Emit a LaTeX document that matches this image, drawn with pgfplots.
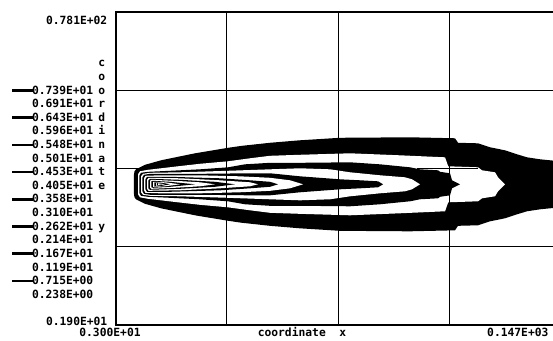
\documentclass[border=0pt]{standalone}
\usepackage{pgfplots}
\pgfplotsset{compat=1.18}
\usepackage{fontspec}
\setmainfont{DejaVu Sans Mono}
\begin{document}
\begin{tikzpicture}[x=1pt,y=1pt,every node/.style={font=\fontsize{11.3}{13}\selectfont\bfseries, inner sep=0pt}]
\begin{axis}[
  at={(115.5pt,15.5pt)}, anchor=south west,
  scale only axis, width=445.2pt, height=312pt,
  xmin=3, xmax=147, ymin=1.9, ymax=78.1,
  xtick={39,75,111}, ytick={20.95,59.05},
  xticklabels={}, yticklabels={},
  major tick length=0pt,
  grid=major, grid style={black, line width=0.8pt},
  axis line style={black, line width=2pt},
  axis on top,
]
\addplot[black, line width=0.8pt] coordinates {(3,40) (147,40)};
% R1 (0.238 - 0.715) black
\addplot[fill=black, draw=none] coordinates {
(8.98,38.58) (9.15,39.32) (9.63,39.80) (10.92,40.29) (12.54,40.90) (17.72,42.00) (23.22,42.86) (28.71,43.71) (39.39,45.05) (43.92,45.54) (52.98,46.28) (62.68,46.89) (75.63,47.50) (98.27,47.62) (112.81,47.38) (113.79,46.28) (120.26,46.15) (124.14,45.18) (128.99,44.44) (132.87,43.47) (136.10,42.73) (140.31,42.25) (146.78,41.76) (150,41.02)
(150,31.26) (146.78,30.52) (140.31,30.03) (136.10,29.55) (132.87,28.81) (128.99,27.84) (124.14,27.10) (120.26,26.13) (113.79,26.00) (112.81,24.90) (98.27,24.66) (75.63,24.78) (62.68,25.39) (52.98,26.00) (43.92,26.74) (39.39,27.23) (28.71,28.57) (23.22,29.42) (17.72,30.28) (12.54,31.38) (10.92,31.99) (9.63,32.48) (9.15,32.96) (8.98,33.70)};
% R2 white
\addplot[fill=white, draw=none] coordinates {
(10.28,38.58) (10.92,39.32) (13.51,39.68) (17.72,40.05) (23.22,40.54) (30.33,41.15) (39.39,41.76) (46.51,42.49) (52.98,43.10) (62.68,43.35) (78.86,43.71) (95.03,43.22) (109.59,42.73) (110.61,40.54) (120.26,40.29) (121.55,39.56) (125.76,39.07) (126.73,37.85) (128.99,36.14)
(126.73,34.43) (125.76,33.21) (121.55,32.72) (120.26,31.99) (110.61,31.74) (109.59,29.55) (95.03,29.06) (78.86,28.57) (62.68,28.93) (52.98,29.18) (46.51,29.79) (39.39,30.52) (30.33,31.13) (23.22,31.74) (17.72,32.23) (13.51,32.60) (10.92,32.96) (10.28,33.70)};
% R3 black
\addplot[fill=black, draw=none] coordinates {
(10.76,38.34) (11.25,38.95) (13.51,39.19) (20.63,39.44) (30.33,39.80) (39.39,40.29) (44.89,41.02) (52.98,41.39) (62.68,41.39) (78.86,41.51) (88.55,41.02) (98.27,40.29) (101.50,39.80) (107.33,39.56) (107.97,39.19) (111.20,38.83) (111.85,37.12) (114.44,36.14)
(111.85,35.16) (111.20,33.45) (107.97,33.09) (107.33,32.72) (101.50,32.48) (98.27,31.99) (88.55,31.26) (78.86,30.77) (62.68,30.89) (52.98,30.89) (44.89,31.26) (39.39,31.99) (30.33,32.48) (20.63,32.84) (13.51,33.09) (11.25,33.33) (10.76,33.94)};
% R4 white
\addplot[fill=white, draw=none] coordinates {
(11.25,38.09) (11.89,38.70) (14.16,38.95) (23.86,39.07) (39.39,39.44) (52.98,39.80) (62.68,40.05) (72.39,39.80) (78.86,39.07) (88.55,38.34) (96.65,37.85) (98.90,37.36) (101.50,36.14)
(98.90,34.92) (96.65,34.43) (88.55,33.94) (78.86,33.21) (72.39,32.48) (62.68,32.23) (52.98,32.48) (39.39,32.84) (23.86,33.21) (14.16,33.33) (11.89,33.58) (11.25,34.19)};
% R5 black
\addplot[fill=black, draw=none] coordinates {
(11.73,37.85) (12.22,38.46) (14.16,38.70) (30.33,38.70) (46.51,38.83) (52.98,38.83) (62.68,38.09) (75.63,37.36) (82.10,37.12) (87.91,36.87) (89.53,36.14)
(87.91,35.41) (82.10,35.16) (75.63,34.92) (62.68,34.19) (52.98,33.45) (46.51,33.45) (30.33,33.58) (14.16,33.58) (12.22,33.82) (11.73,34.43)};
% R6 white
\addplot[fill=white, draw=none] coordinates {
(12.22,37.61) (12.70,38.22) (17.39,38.34) (30.33,38.34) (43.27,38.09) (52.98,37.73) (59.45,37.12) (63.66,36.14)
(59.45,35.16) (52.98,34.55) (43.27,34.19) (30.33,33.94) (17.39,33.94) (12.70,34.06) (12.22,34.67)};
% R7 black
\addplot[fill=black, draw=none] coordinates {
(12.70,37.36) (13.19,37.97) (20.63,37.97) (36.80,37.61) (46.51,37.12) (52.98,36.75) (55.56,36.14)
(52.98,35.53) (46.51,35.16) (36.80,34.67) (20.63,34.31) (13.19,34.31) (12.70,34.92)};
% R8 white
\addplot[fill=white, draw=none] coordinates {
(13.19,37.24) (13.67,37.73) (23.86,37.61) (36.80,37.12) (46.51,36.63) (49.09,36.14)
(46.51,35.65) (36.80,35.16) (23.86,34.67) (13.67,34.55) (13.19,35.04)};
% R9 black
\addplot[fill=black, draw=none] coordinates {
(13.67,37.12) (14.16,37.48) (23.86,37.24) (35.18,36.75) (41.65,36.14)
(35.18,35.53) (23.86,35.04) (14.16,34.80) (13.67,35.16)};
% R10 white
\addplot[fill=white, draw=none] coordinates {
(14.16,36.99) (14.64,37.24) (22.25,36.99) (30.33,36.63) (35.18,36.14)
(30.33,35.65) (22.25,35.29) (14.64,35.04) (14.16,35.29)};
% R11 black
\addplot[fill=black, draw=none] coordinates {
(14.64,36.87) (15.13,36.99) (20.63,36.75) (28.71,36.14)
(20.63,35.53) (15.13,35.29) (14.64,35.41)};
% R12 white
\addplot[fill=white, draw=none] coordinates {
(15.13,36.75) (19.01,36.63) (23.86,36.14) (19.01,35.65) (15.13,35.53)};
% R13 black
\addplot[fill=black, draw=none] coordinates {
(15.61,36.63) (18.04,36.51) (20.63,36.14) (18.04,35.77) (15.61,35.65)};
% R14 white
\addplot[fill=white, draw=none] coordinates {
(16.10,36.51) (19.01,36.14) (16.10,35.77)};
% R15 black
\addplot[fill=black, draw=none] coordinates {
(16.42,36.43) (18.04,36.14) (16.42,35.85)};
% R16 white
\addplot[fill=white, draw=none] coordinates {
(16.75,36.34) (17.72,36.14) (16.75,35.94)};
\addplot[black, line width=0.8pt] coordinates {(100.5,40) (120.3,40)};
\end{axis}
% axis extent labels
\node[anchor=base east] at (107.5,315.6) {0.781E+02};
\node[anchor=base east] at (107.5,14.6) {0.190E+01};
\node[anchor=base] at (110,4) {0.300E+01};
\node[anchor=base] at (302,4) {coordinate\hphantom{xx}x};
\node[anchor=base west] at (487,4) {0.147E+03};
% vertical axis title
\foreach \ch/\py in {c/63.3, o/76.9, o/90.5, r/104.1, d/117.7, i/131.3, n/144.9, a/158.5, t/172.1, e/185.7, y/226.5}
  \node[anchor=base] at (101.7,{340-\py-3.7}) {\ch};
% level legend
\foreach \v/\thick [count=\k from 0] in {0.739E+01/1, 0.691E+01/0, 0.643E+01/1, 0.596E+01/0, 0.548E+01/1, 0.501E+01/0, 0.453E+01/1, 0.405E+01/0, 0.358E+01/1, 0.310E+01/0, 0.262E+01/1, 0.214E+01/0, 0.167E+01/1, 0.119E+01/0, 0.715E+00/1, 0.238E+00/0}{
  \pgfmathsetmacro{\ty}{249.5-13.6*\k}
  \ifnum\thick=1 \draw[line width=2.7pt] (12,\ty) -- (33,\ty); \fi
  \node[anchor=base east] at (93.5,\ty-3.7) {\v};
}
\pgfresetboundingbox
\useasboundingbox (0,0) rectangle (553,340);
\end{tikzpicture}
\end{document}
